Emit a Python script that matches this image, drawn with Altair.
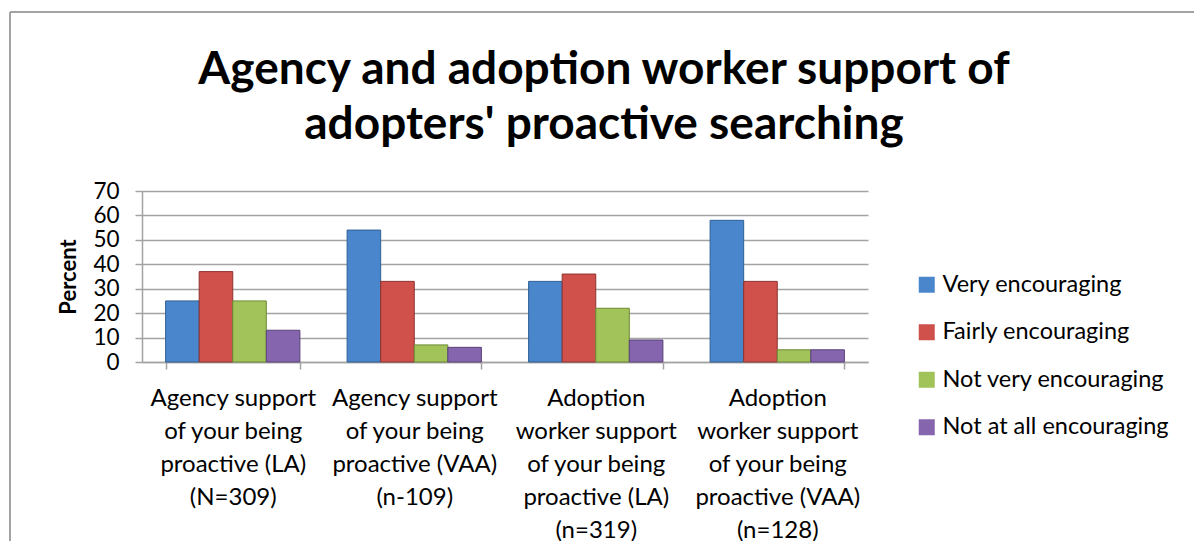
import altair as alt
import pandas as pd

categories = [
    "Agency support|of your being|proactive (LA)|(N=309)",
    "Agency support|of your being|proactive (VAA)|(n-109)",
    "Adoption|worker support|of your being|proactive (LA)|(n=319)",
    "Adoption|worker support|of your being|proactive (VAA)|(n=128)",
]
series = ["Very encouraging", "Fairly encouraging", "Not very encouraging", "Not at all encouraging"]
very_encouraging = [25, 54, 33, 58]
fairly_encouraging = [37, 33, 36, 33]
not_very_encouraging = [25, 7, 22, 5]
not_at_all_encouraging = [13, 6, 9, 5]

colors = ["#4A86CC", "#D0504B", "#A2C25A", "#8565AE"]
strokes = ["#2F5F95", "#8E322F", "#6E8A35", "#5A4379"]

values = [very_encouraging, fairly_encouraging, not_very_encouraging, not_at_all_encouraging]
rows = []
for s, vals in zip(series, values):
    for c, v in zip(categories, vals):
        rows.append({"category": c, "series": s, "value": v})
df = pd.DataFrame(rows)

FONT = "Lato"
GRAY = "#A3A3A3"

bars = alt.Chart(df).mark_bar(strokeWidth=1).encode(
    x=alt.X(
        "category:N",
        sort=categories,
        scale=alt.Scale(paddingInner=0.26, paddingOuter=0.13),
        axis=alt.Axis(
            title=None,
            labelExpr="split(datum.label, '|')",
            labelAngle=0,
            labelFont=FONT,
            labelFontSize=24,
            labelLineHeight=33,
            labelColor="black",
            labelPadding=17,
            labelLimit=400,
            tickBand="extent",
            tickSize=7,
            tickColor=GRAY,
            tickWidth=1.5,
            domainColor=GRAY,
            domainWidth=1.5,
            grid=False,
        ),
    ),
    xOffset=alt.XOffset("series:N", sort=series, scale=alt.Scale(paddingInner=0, paddingOuter=0)),
    y=alt.Y(
        "value:Q",
        scale=alt.Scale(domain=[0, 70]),
        axis=alt.Axis(
            values=[0, 10, 20, 30, 40, 50, 60, 70],
            title="Percent",
            titleFont=FONT,
            titleFontSize=22,
            titleFontWeight="bold",
            titleColor="black",
            titlePadding=12,
            labelFont=FONT,
            labelFontSize=22.5,
            labelColor="black",
            labelPadding=16,
            tickSize=7,
            tickColor=GRAY,
            tickWidth=1.5,
            domainColor=GRAY,
            domainWidth=1.5,
            gridColor=GRAY,
            gridWidth=1.5,
        ),
    ),
    color=alt.Color(
        "series:N",
        sort=series,
        scale=alt.Scale(domain=series, range=colors),
        legend=alt.Legend(
            title=None,
            orient="none",
            legendX=773,
            legendY=82,
            symbolType="square",
            symbolSize=256,
            symbolStrokeWidth=0,
            labelFont=FONT,
            labelFontSize=23.5,
            labelColor="black",
            labelOffset=4,
            labelLimit=400,
            rowPadding=22.5,
        ),
    ),
    stroke=alt.Stroke("series:N", sort=series, scale=alt.Scale(domain=series, range=strokes), legend=None),
)

frame_df = pd.DataFrame({"k": [0]})
frame_top = alt.Chart(frame_df).mark_rule(color=GRAY, strokeWidth=2).encode(
    x=alt.value(-132), x2=alt.value(1070), y=alt.value(-179)
)
frame_left = alt.Chart(frame_df).mark_rule(color=GRAY, strokeWidth=2).encode(
    x=alt.value(-132), y=alt.value(-179), y2=alt.value(360)
)

chart = alt.layer(frame_top, frame_left, bars).properties(
    width=726,
    height=171,
    autosize="none",
    padding={"left": 134, "top": 183, "right": 326, "bottom": 179},
    title=alt.TitleParams(
        text=["Agency and adoption worker support of", "adopters' proactive searching"],
        font=FONT,
        fontSize=46,
        fontWeight="bold",
        color="black",
        anchor="middle",
        frame="group",
        dx=99,
        dy=138,
        offset=0,
        lineHeight=55,
    ),
).configure_view(stroke=None)

chart.save("out.html", embed_options={"renderer": "svg", "actions": False})
